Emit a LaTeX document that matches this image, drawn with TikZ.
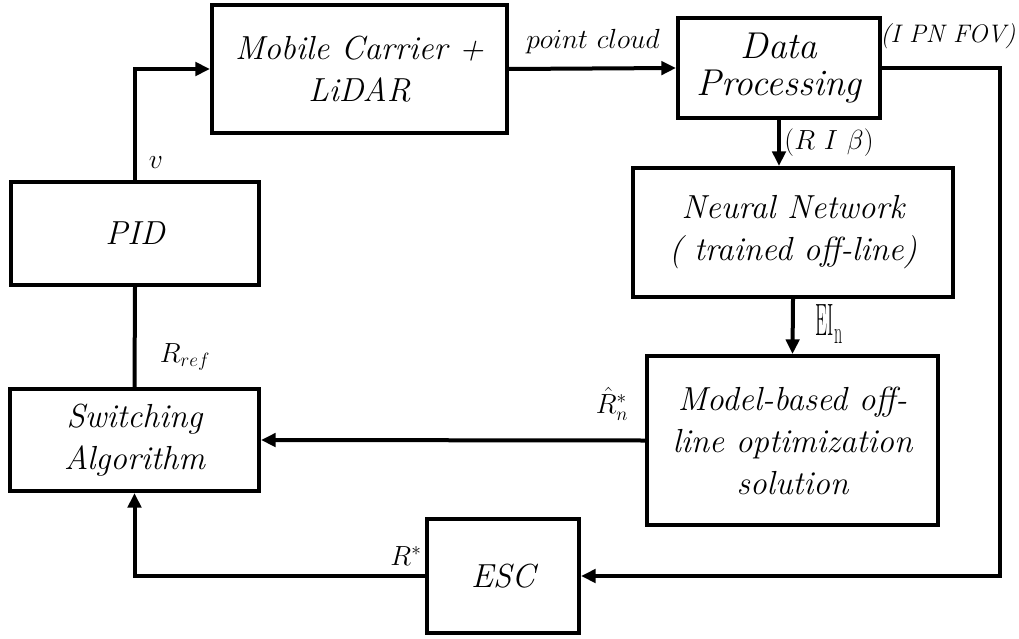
\documentclass[tikz,border=0pt]{standalone}
\usepackage{graphicx}
\usetikzlibrary{arrows.meta}

\begin{document}
\begin{tikzpicture}[x=0.75pt,y=-0.75pt,
  block/.style={draw,line width=3pt,rectangle,inner sep=0pt,align=center,
    font=\fontsize{25}{31.5}\selectfont\itshape},
  flow/.style={line width=3pt,-{Triangle[length=11pt,width=10pt]}},
  plain/.style={line width=3pt},
  lbl/.style={inner sep=0pt,font=\fontsize{22}{26}\selectfont}]
\useasboundingbox (0,0) rectangle (1019,638);

% blocks
\node[block,minimum width=295*0.75pt,minimum height=128*0.75pt] (mob) at (359.5,69) {Mobile Carrier +\\LiDAR};
\node[block,minimum width=202*0.75pt,minimum height=100*0.75pt,font=\fontsize{28}{28}\selectfont\itshape] (dat) at (779,68) {Data\\Processing};
\node[block,minimum width=248*0.75pt,minimum height=103*0.75pt] (pid) at (135,233.5) {PID};
\node[block,minimum width=320*0.75pt,minimum height=129*0.75pt] (nn) at (793,232.5) {Neural Network\\( trained off-line)};
\node[block,minimum width=249*0.75pt,minimum height=102*0.75pt] (sw) at (134.5,440) {Switching\\Algorithm};
\node[block,minimum width=291*0.75pt,minimum height=169*0.75pt] (mod) at (792.5,440.5) {Model-based off-\\line optimization\\solution};
\node[block,minimum width=152*0.75pt,minimum height=114*0.75pt] (esc) at (503,576) {ESC};

% bends of the connectors
\coordinate (c1) at (1000,68);
\coordinate (c2) at (1000,576);

% connectors
\draw[flow] (pid.north) |- (mob.west);
\draw[flow] (mob.east) -- (dat.west);
\draw[flow] (dat.east) -- (c1) -- (c2) -- (esc.east);
\draw[flow] (dat.south) -- (dat.south |- nn.north);
\draw[flow] (nn.south) -- (mod.north);
\draw[flow] (mod.west) -- (sw.east);
\draw[flow] (esc.west) -| (sw.south);
\draw[plain] (pid.south) -- (sw.north);

% signal labels
\node[lbl] (lv) at (156,163) {$v$};
\node[lbl] (lpc) at (593,42) {$point\ cloud$};
\node[lbl,font=\fontsize{19}{24}\selectfont\itshape] (lipn) at (948,36) {(I PN FOV)};
\node[lbl] (lrib) at (829,143) {$(R\ I\ \beta)$};
\node[lbl] (lei) at (829,324) {\scalebox{0.42}[1]{\fontsize{34}{34}\selectfont EI}\raisebox{-6pt}{\scalebox{0.5}[1]{\fontsize{24}{24}\selectfont n}}};
\node[lbl] (lrn) at (612,404) {$\hat{R}^*_n$};
\node[lbl] (lref) at (185,357) {$R_{ref}$};
\node[lbl] (lrs) at (406,556) {$R^*$};
\end{tikzpicture}
\end{document}
